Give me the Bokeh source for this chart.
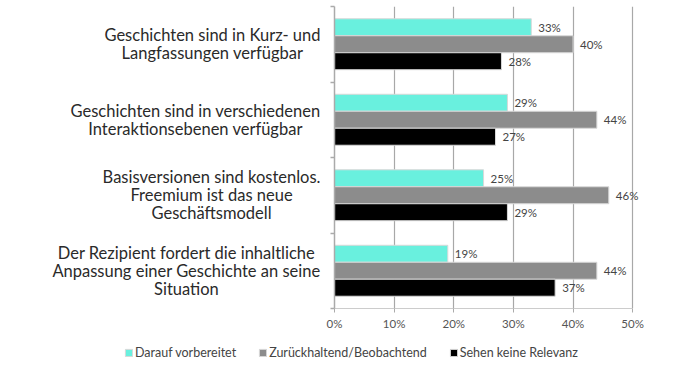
from bokeh.plotting import figure
from bokeh.layouts import row, column
from bokeh.models import (ColumnDataSource, Range1d, FixedTicker, Legend, LegendItem)
from bokeh.core.properties import value
from bokeh.embed import file_html
from bokeh.resources import INLINE

categories = [
    "Geschichten sind in Kurz- und\nLangfassungen verfügbar",
    "Geschichten sind in verschiedenen\nInteraktionsebenen verfügbar",
    "Basisversionen sind kostenlos.\nFreemium ist das neue\nGeschäftsmodell",
    "Der Rezipient fordert die inhaltliche\nAnpassung einer Geschichte an seine\nSituation",
]
series_names = ["Darauf vorbereitet", "Zurückhaltend/Beobachtend", "Sehen keine Relevanz"]
vorbereitet = [33, 29, 25, 19]
zurueckhaltend = [40, 44, 46, 44]
keine_relevanz = [28, 27, 29, 37]
x_ticks = [0, 10, 20, 30, 40, 50]
x_tick_labels = ["0%", "10%", "20%", "30%", "40%", "50%"]

colors = ["#69F0DE", "#8C8C8C", "#000000"]
series = [vorbereitet, zurueckhaltend, keine_relevanz]
n = len(categories)
centers = [n - i - 0.5 for i in range(n)]
bounds = list(range(n + 1))
bar_h = 0.225
offsets = [bar_h, 0.0, -bar_h]

FONT = "Lato"
yr = Range1d(0, n)

# --- main chart ---
p = figure(width=355, height=335, min_border_left=8, min_border_right=25,
           min_border_top=6, min_border_bottom=27,
           x_range=Range1d(0, 54), y_range=yr,
           output_backend="svg", toolbar_location=None)
p.outline_line_color = None
p.ygrid.visible = False
p.xgrid.ticker = FixedTicker(ticks=x_ticks)
p.xgrid.grid_line_color = "#a8a8a8"
p.xgrid.grid_line_width = 1.2

p.xaxis.ticker = FixedTicker(ticks=x_ticks)
p.xaxis.bounds = (x_ticks[0], x_ticks[-1])
p.xaxis.major_label_overrides = {t: l for t, l in zip(x_ticks, x_tick_labels)}
p.xaxis.axis_line_color = "#cccccc"
p.xaxis.major_tick_line_color = "#aaaaaa"
p.xaxis.major_tick_out = 4
p.xaxis.major_tick_in = 0
p.xaxis.minor_tick_line_color = None
p.xaxis.major_label_text_font = FONT
p.xaxis.major_label_text_font_size = "11.5px"
p.xaxis.major_label_text_color = "#555555"
p.xaxis.major_label_standoff = 4

p.yaxis.ticker = FixedTicker(ticks=[], minor_ticks=bounds)
p.yaxis.axis_line_color = "#aaaaaa"
p.yaxis.axis_line_width = 1.5
p.yaxis.major_tick_line_color = None
p.yaxis.minor_tick_line_color = "#aaaaaa"
p.yaxis.minor_tick_line_width = 1.5
p.yaxis.minor_tick_out = 4
p.yaxis.minor_tick_in = 0

for vals, off, col in zip(series, offsets, colors):
    ys = [c + off for c in centers]
    src = ColumnDataSource(dict(y=ys, right=vals, lab=[f"{v}%" for v in vals]))
    p.hbar(y="y", left=0, right="right", height=bar_h, source=src,
           fill_color=col, line_color="#d8d8d8", line_width=1)
    p.text(x="right", y="y", text="lab", source=src, x_offset=7,
           text_baseline="middle", text_align="left",
           text_font=value(FONT), text_font_size="11.5px", text_color="#444444")

# --- category labels ---
lab_fig = figure(width=326, height=335, min_border_left=0, min_border_right=0,
                 min_border_top=6, min_border_bottom=27,
                 x_range=Range1d(0, 326), y_range=yr,
                 x_axis_type=None, y_axis_type=None,
                 output_backend="svg", toolbar_location=None)
lab_fig.outline_line_color = None
lab_fig.grid.visible = False
lab_src = ColumnDataSource(dict(y=centers, text=categories))
lab_fig.text(x=320, y="y", text="text", source=lab_src,
             anchor=value("center_right"), text_align="center", text_baseline="middle",
             text_font=value(FONT), text_font_size="16.5px", text_color="#2a2a2a",
             text_line_height=0.89)

# --- legend ---
leg_fig = figure(width=681, height=32, min_border_left=0, min_border_right=0,
                 min_border_top=0, min_border_bottom=0,
                 x_axis_type=None, y_axis_type=None,
                 output_backend="svg", toolbar_location=None)
leg_fig.outline_line_color = None
leg_fig.grid.visible = False
leg_items = []
for nm, vals, off, col in zip(series_names, series, offsets, colors):
    src = ColumnDataSource(dict(y=[c + off for c in centers], right=vals))
    r = leg_fig.hbar(y="y", left=0, right="right", height=bar_h, source=src,
                     fill_color=col, line_color="#d8d8d8", line_width=1, visible=False)
    leg_items.append(LegendItem(label=nm, renderers=[r]))
legend = Legend(items=leg_items, orientation="horizontal", location=(124, 7),
                glyph_width=9, glyph_height=9, spacing=22, label_standoff=2,
                label_text_font=FONT, label_text_font_size="12.5px", label_text_color="#444444",
                border_line_color=None, background_fill_alpha=0, inactive_fill_alpha=0,
                padding=4, margin=0)
leg_fig.add_layout(legend, "center")

layout = column(row(lab_fig, p, spacing=0), leg_fig, spacing=0)
open("out.html", "w").write(file_html(layout, INLINE))
